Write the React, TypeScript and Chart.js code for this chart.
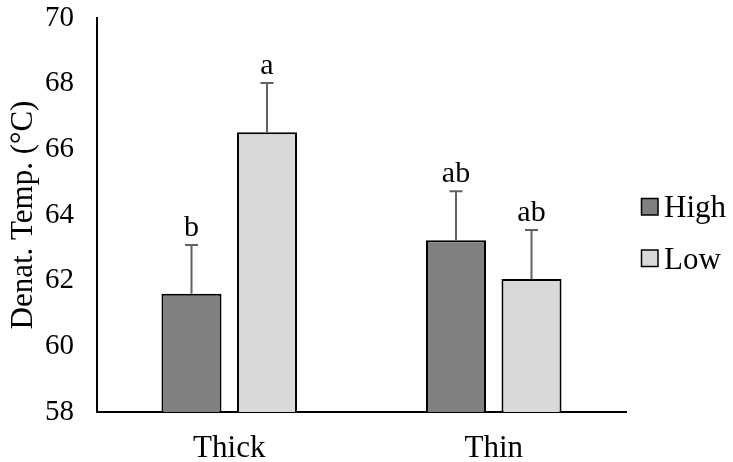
import React, { useEffect, useRef } from "react";
import { Chart, registerables } from "chart.js";

Chart.register(...registerables);

const categories = ["Thick", "Thin"];
const seriesNames = ["High", "Low"];
const highValues = [61.6, 63.23];
const lowValues = [66.52, 62.05];
const highErrors = [1.49, 1.49];
const lowErrors = [1.5, 1.49];
const highLetters = ["b", "ab"];
const lowLetters = ["a", "ab"];
const yTitle = "Denat. Temp. (°C)";

const FONT = '"Liberation Serif", "Times New Roman", serif';

const errorBarPlugin = {
  id: "errorBars",
  afterDatasetsDraw(chart: any) {
    const ctx = chart.ctx;
    const yScale = chart.scales.y;
    chart.data.datasets.forEach((ds: any, di: number) => {
      const meta = chart.getDatasetMeta(di);
      meta.data.forEach((bar: any, i: number) => {
        const v = ds.data[i];
        const e = ds.errors[i];
        const yTop = yScale.getPixelForValue(v + e);
        const yBar = yScale.getPixelForValue(v);
        const x = bar.x;
        ctx.save();
        ctx.strokeStyle = "#616161";
        ctx.lineWidth = 2;
        ctx.beginPath();
        ctx.moveTo(x, yBar);
        ctx.lineTo(x, yTop);
        ctx.moveTo(x - 6.5, yTop);
        ctx.lineTo(x + 6.5, yTop);
        ctx.stroke();
        ctx.fillStyle = "#000";
        ctx.font = `30px ${FONT}`;
        ctx.textAlign = "center";
        ctx.textBaseline = "alphabetic";
        ctx.fillText(ds.letters[i], x, yTop - 9);
        ctx.restore();
      });
    });
  },
};

const legendPlugin = {
  id: "customLegend",
  afterDraw(chart: any) {
    const ctx = chart.ctx;
    const rows = [207, 258.5];
    chart.data.datasets.forEach((ds: any, di: number) => {
      const cy = rows[di];
      ctx.save();
      ctx.fillStyle = ds.backgroundColor;
      ctx.strokeStyle = "#000";
      ctx.lineWidth = 1.5;
      ctx.fillRect(641.5, cy - 8.5, 16.5, 16.5);
      ctx.strokeRect(641.5, cy - 8.5, 16.5, 16.5);
      ctx.fillStyle = "#000";
      ctx.font = `31px ${FONT}`;
      ctx.textAlign = "left";
      ctx.textBaseline = "alphabetic";
      ctx.fillText(ds.label, 664, cy + 10);
      ctx.restore();
    });
  },
};

export default function App() {
  const ref = useRef<HTMLCanvasElement | null>(null);
  useEffect(() => {
    if (!ref.current) return;
    const chart = new Chart(ref.current, {
      type: "bar",
      data: {
        labels: categories,
        datasets: [
          {
            label: seriesNames[0],
            data: highValues,
            errors: highErrors,
            letters: highLetters,
            backgroundColor: "#808080",
            borderColor: "#000",
            borderWidth: 2,
            borderSkipped: false,
          } as any,
          {
            label: seriesNames[1],
            data: lowValues,
            errors: lowErrors,
            letters: lowLetters,
            backgroundColor: "#d9d9d9",
            borderColor: "#000",
            borderWidth: 2,
            borderSkipped: false,
          } as any,
        ],
      },
      options: {
        animation: false,
        responsive: true,
        maintainAspectRatio: false,
        datasets: { bar: { categoryPercentage: 0.571, barPercentage: 0.795 } },
        layout: { padding: { left: 0, right: 107, top: 18, bottom: 0 } },
        plugins: {
          legend: { display: false },
          tooltip: { enabled: false },
        },
        scales: {
          x: {
            grid: { drawOnChartArea: false, drawTicks: false },
            border: { display: true, color: "#000", width: 2 },
            ticks: {
              color: "#000",
              font: { family: FONT, size: 31 },
              padding: 18,
            },
            afterFit(scale: any) {
              scale.height = 50;
              scale.paddingLeft = 0;
              scale.paddingRight = 0;
            },
          },
          y: {
            min: 58,
            max: 70,
            grid: { drawOnChartArea: false, drawTicks: false },
            border: { display: true, color: "#000", width: 2 },
            ticks: {
              stepSize: 2,
              color: "#000",
              font: { family: FONT, size: 29 },
              padding: 23,
            },
            title: {
              display: true,
              text: yTitle,
              color: "#000",
              font: { family: FONT, size: 31 },
              padding: { top: 5, bottom: 0 },
            },
            afterFit(scale: any) {
              scale.width = 97;
              scale.paddingTop = 0;
              scale.paddingBottom = 0;
            },
          },
        },
      },
      plugins: [errorBarPlugin, legendPlugin],
    });
    return () => chart.destroy();
  }, []);
  return (
    <div style={{ position: "absolute", left: 0, top: 0, width: 733, height: 462, background: "#fff" }}>
      <canvas ref={ref} />
    </div>
  );
}
